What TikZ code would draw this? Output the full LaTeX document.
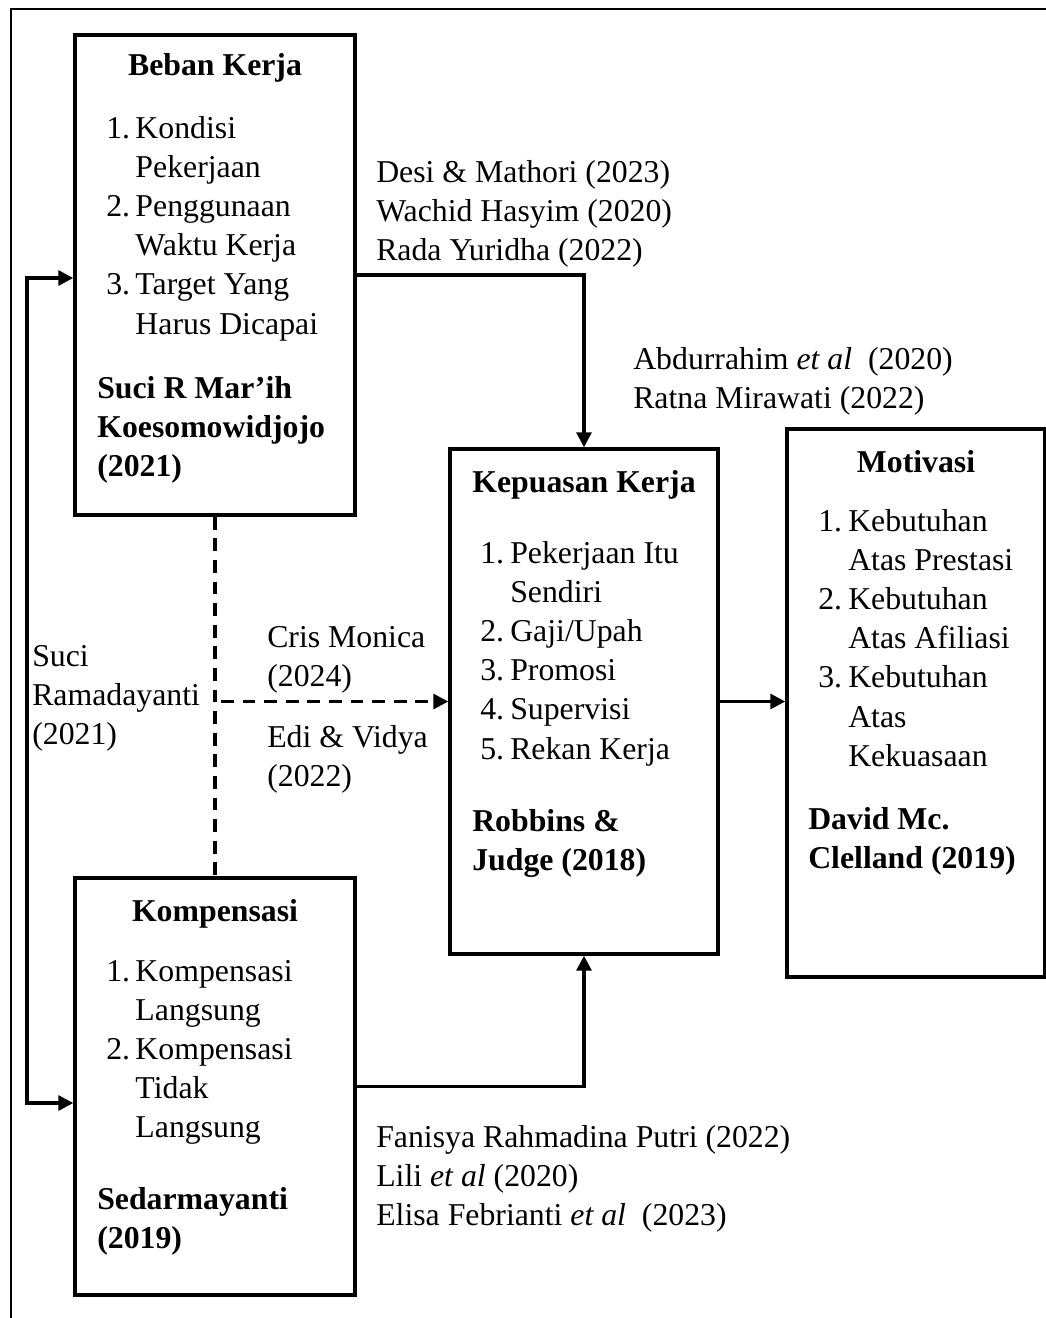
\documentclass[tikz,border=0pt]{standalone}
\usepackage{fontspec}
\setmainfont{Liberation Serif}
\usepackage{tikz}
\usetikzlibrary{arrows.meta}
\newcommand{\lines}[1]{\begin{tabular}[t]{@{}l@{}}#1\end{tabular}}
\newcommand{\items}[2]{\begin{tabular}[t]{@{}p{#1}@{}l@{}}#2\end{tabular}}

\begin{document}
\begin{tikzpicture}[x=0.025cm, y=-0.025cm,
	every node/.style={font=\fontsize{22.6}{27.9}\selectfont, inner sep=0pt},
	box/.style={rectangle, draw=black, line width=0.085cm},
	txt/.style={anchor=base west},
	head/.style={anchor=base, font=\fontsize{22.6}{27.9}\selectfont\bfseries},
	src/.style={anchor=base west, font=\fontsize{22.6}{27.9}\selectfont\bfseries},
	arr/.style={line width=0.08cm, -{Triangle[length=0.37cm, width=0.37cm]}},
	arrs/.style={line width=0.08cm, {Triangle[length=0.37cm, width=0.37cm]}-{Triangle[length=0.37cm, width=0.37cm]}},
	dashline/.style={line width=0.08cm, dash pattern=on 0.32cm off 0.22cm}]
				\useasboundingbox (0,0) rectangle (1046,1318);
				\draw[line width=0.04cm] (11,1318) -- (11,9) -- (1046,9);
				\node[box, minimum width=7cm, minimum height=12cm] (1) at (215,275) {};
				\node[box, minimum width=7cm, minimum height=10.425cm] (2) at (215,1086.5) {};
				\node[box, minimum width=6.7cm, minimum height=12.625cm] (3) at (584,701.5) {};
				\node[box, minimum width=6.45cm, minimum height=13.7cm] (4) at (916,703) {};
				\node[head] (t1) at (215,75) {Beban Kerja};
				\node[txt] (l1) at (106,138) {\items{0.73cm}{1. & Kondisi\\ & Pekerjaan\\ 2. & Penggunaan\\ & Waktu Kerja\\ 3. & Target Yang\\ & Harus Dicapai}};
				\node[src] (s1) at (97,398) {\lines{Suci R Mar’ih\\ Koesomowidjojo\\ (2021)}};
				\node[head] (t2) at (215,921) {Kompensasi};
				\node[txt] (l2) at (106,981) {\items{0.73cm}{1. & Kompensasi\\ & Langsung\\ 2. & Kompensasi\\ & Tidak\\ & Langsung}};
				\node[src] (s2) at (97,1209) {\lines{Sedarmayanti\\ (2019)}};
				\node[head] (t3) at (584,492) {Kepuasan Kerja};
				\node[txt] (l3) at (480,563) {\items{0.75cm}{1. & Pekerjaan Itu\\ & Sendiri\\ 2. & Gaji/Upah\\ 3. & Promosi\\ 4. & Supervisi\\ 5. & Rekan Kerja}};
				\node[src] (s3) at (472,831) {\lines{Robbins \&\\ Judge (2018)}};
				\node[head] (t4) at (916,472) {Motivasi};
				\node[txt] (l4) at (818,531) {\items{0.75cm}{1. & Kebutuhan\\ & Atas Prestasi\\ 2. & Kebutuhan\\ & Atas Afiliasi\\ 3. & Kebutuhan\\ & Atas\\ & Kekuasaan}};
				\node[src] (s4) at (808,829) {\lines{David Mc.\\ Clelland (2019)}};
				\node[txt] (5) at (376,182) {\lines{Desi \& Mathori (2023)\\ Wachid Hasyim (2020)\\ Rada Yuridha (2022)}};
				\node[txt] (6) at (633,369) {\lines{Abdurrahim \textit{et al}\ \ (2020)\\ Ratna Mirawati (2022)}};
				\node[txt] (7) at (267,647) {\lines{Cris Monica\\ (2024)}};
				\node[txt] (8) at (267,747) {\lines{Edi \& Vidya\\ (2022)}};
				\node[txt] (9) at (32,666) {\lines{Suci\\ Ramadayanti\\ (2021)}};
				\node[txt] (10) at (376,1147) {\lines{Fanisya Rahmadina Putri (2022)\\ Lili \textit{et al} (2020)\\ Elisa Febrianti \textit{et al}\ \ (2023)}};
				\coordinate (a) at (27,278);
				\coordinate (b) at (27,1103);
				\coordinate (c) at (221,701.5);
				\draw[arr] (1.east) -| (3.north);
				\draw[arr] (2.east) -| (3.south);
				\draw[arr] (3.east) -- (3.east -| 4.west);
				\draw[arrs] (a -| 1.west) -- (a) -- (b) -- (b -| 2.west);
				\draw[dashline] (1.south) -- (2.north);
				\draw[dashline, -{Triangle[length=0.37cm, width=0.37cm]}] (c) -- (c -| 3.west);
			\end{tikzpicture}
\end{document}
